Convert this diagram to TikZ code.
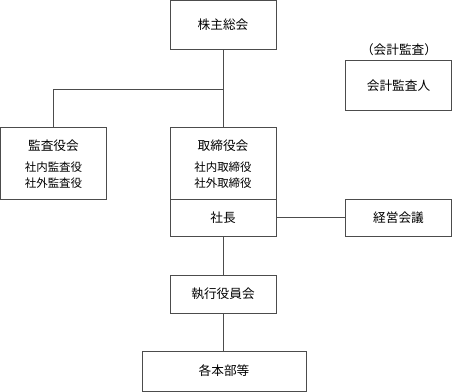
\documentclass[tikz,border=0pt]{standalone}
\usepackage{fontspec}
\newfontfamily\jpfont{Noto Sans CJK JP}
\begin{document}
\begin{tikzpicture}[x=0.75pt,y=-0.75pt,
  box/.style={draw=black!70,line width=0.75pt,rectangle,inner sep=0pt},
  title/.style={font=\jpfont\fontsize{9.5}{12}\selectfont},
  sub/.style={font=\jpfont\fontsize{8.6}{12}\selectfont,align=center}]
  \useasboundingbox (0,0) rectangle (453,392);

  % Shareholders and auditor
  \node[box,title,minimum width=79.5pt,minimum height=37pt] (meet) at (223,25) {株主総会};
  \node[title] (audlbl) at (399,50) {（会計監査）};
  \node[box,title,minimum width=80pt,minimum height=37.5pt] (auditor) at (398.5,86) {会計監査人};

  % Board of auditors
  \node[box,minimum width=79.5pt,minimum height=53.25pt] (kansa) at (53.5,163.5) {};
  \node[title] (kansat) at (53.5,146) {監査役会};
  \node[sub] (kansam) at (53.5,175) {社内監査役\\社外監査役};

  % Board of directors and president
  \node[box,minimum width=79.5pt,minimum height=53.25pt] (board) at (223,163.5) {};
  \node[title] (boardt) at (223,146) {取締役会};
  \node[sub] (boardm) at (223,175) {社内取締役\\社外取締役};
  \node[box,title,minimum width=79.5pt,minimum height=27.75pt] (pres) at (223,217.5) {社長};
  \node[box,title,minimum width=80pt,minimum height=27.75pt] (mgmt) at (398.5,217.5) {経営会議};

  % Executive line
  \node[box,title,minimum width=79.5pt,minimum height=28.5pt] (exec) at (223,294) {執行役員会};
  \node[box,title,minimum width=123pt,minimum height=30pt] (depts) at (224,371) {各本部等};

  % Connectors
  \coordinate (split) at (223,90);
  \draw[black!70,line width=0.75pt] (meet.south) -- (board.north);
  \draw[black!70,line width=0.75pt] (split) -| (kansa.north);
  \draw[black!70,line width=0.75pt] (pres.east) -- (mgmt.west);
  \draw[black!70,line width=0.75pt] (pres.south) -- (exec.north);
  \draw[black!70,line width=0.75pt] (exec.south) -- (exec.south |- depts.north);
\end{tikzpicture}
\end{document}
